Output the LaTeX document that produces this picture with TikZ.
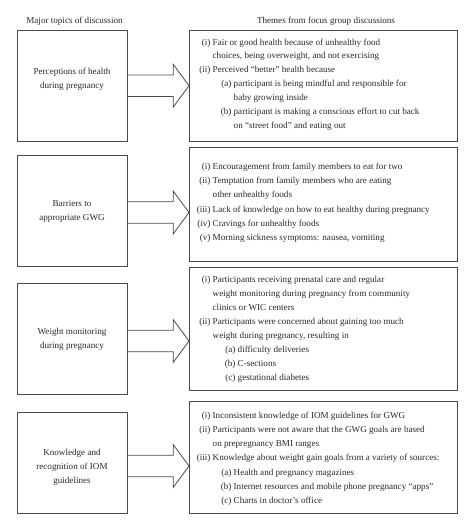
\documentclass[tikz,border=0pt]{standalone}
\usepackage{fontspec}
\setmainfont{Liberation Serif}
\usetikzlibrary{calc}
\definecolor{linegray}{HTML}{4A4A4A}
\definecolor{textgray}{HTML}{2A2A2A}
\newcommand\itm[2]{\makebox[0pt][r]{#1\ }#2}
\newcommand\subitm[3][21pt]{\hspace*{#1}\makebox[0pt][r]{#2\ }#3}
\newcommand\txtlines[1]{\begin{tabular}[t]{@{}l@{}}#1\end{tabular}}
\begin{document}
\begin{tikzpicture}[x=1pt,y=-1pt,
  box/.style={draw=linegray, line width=0.8pt, anchor=north west, inner sep=0pt},
  txt/.style={text=textgray, font=\fontsize{9.1}{14}\selectfont, inner sep=0pt},
  ltext/.style={txt, align=center},
  rtext/.style={txt, anchor=base west},
  arr/.style={draw=linegray, line width=0.8pt, line join=miter}]
\useasboundingbox[fill=white] (0,0) rectangle (474,530);

\node[txt] (h1) at (74.5,21) {Major topics of discussion};
\node[txt] (h2) at (326,21) {Themes from focus group discussions};

% left boxes
\node[box, minimum width=110.5pt, minimum height=111pt] (L1) at (16.8,29.7) {};
\node[box, minimum width=110.5pt, minimum height=111pt] (L2) at (16.8,154.7) {};
\node[box, minimum width=110.5pt, minimum height=110.7pt] (L3) at (16.8,283.3) {};
\node[box, minimum width=110.5pt, minimum height=100.4pt] (L4) at (16.8,412.3) {};

% right boxes
\node[box, minimum width=267.7pt, minimum height=111pt] (R1) at (189,29.7) {};
\node[box, minimum width=267.7pt, minimum height=113.4pt] (R2) at (189,147.3) {};
\node[box, minimum width=267.7pt, minimum height=123.4pt] (R3) at (189,266.5) {};
\node[box, minimum width=267.7pt, minimum height=112pt] (R4) at (189,400.7) {};

% left texts
\node[ltext] (L1t) at (72,79.5) {Perceptions of health\\during pregnancy};
\node[ltext] (L2t) at (72,211.5) {Barriers to\\appropriate GWG};
\node[ltext] (L3t) at (72,339.5) {Weight monitoring\\during pregnancy};
\node[ltext] (L4t) at (72,467) {Knowledge and\\recognition of IOM\\guidelines};

% arrows
\coordinate (a1) at (R1.west |- 0,85.7);
\coordinate (a2) at (R2.west |- 0,212.5);
\coordinate (a3) at (R3.west |- 0,341);
\coordinate (a4) at (R4.west |- 0,466);
\foreach \L/\a in {L1/a1,L2/a2,L3/a3,L4/a4}{
  \draw[arr] ($(\L.east |- \a)+(0,-10.7)$) -- ($(\a)+(-15.7,-10.7)$) -- ($(\a)+(-15.7,-21.3)$)
    -- (\a) -- ($(\a)+(-15.7,21.3)$) -- ($(\a)+(-15.7,10.7)$) -- ($(\L.east |- \a)+(0,10.7)$);
}

% right texts
\node[rtext, font=\fontsize{9.1}{13.9}\selectfont] (R1t) at (212.5,45) {\txtlines{%
\itm{(i)}{Fair or good health because of unhealthy food}\\
choices, being overweight, and not exercising\\
\itm{(ii)}{Perceived ``better'' health because}\\
\subitm{(a)}{participant is being mindful and responsible for}\\
\hspace*{21pt}baby growing inside\\
\subitm{(b)}{participant is making a conscious effort to cut back}\\
\hspace*{21pt}on ``street food'' and eating out}};

\node[rtext, font=\fontsize{9.1}{14.3}\selectfont] (R2t) at (212.5,169.2) {\txtlines{%
\itm{(i)}{Encouragement from family members to eat for two}\\
\itm{(ii)}{Temptation from family members who are eating}\\
other unhealthy foods\\
\itm{(iii)}{Lack of knowledge on how to eat healthy during pregnancy}\\
\itm{(iv)}{Cravings for unhealthy foods}\\
\itm{(v)}{Morning sickness symptoms: nausea, vomiting}}};

\node[rtext, font=\fontsize{9.1}{14}\selectfont] (R3t) at (212.5,282.8) {\txtlines{%
\itm{(i)}{Participants receiving prenatal care and regular}\\
weight monitoring during pregnancy from community\\
clinics or WIC centers\\
\itm{(ii)}{Participants were concerned about gaining too much}\\
weight during pregnancy, resulting in\\
\subitm[25pt]{(a)}{difficulty deliveries}\\
\subitm[25pt]{(b)}{C-sections}\\
\subitm[25pt]{(c)}{gestational diabetes}}};

\node[rtext, font=\fontsize{9.1}{14.2}\selectfont] (R4t) at (212.5,418.2) {\txtlines{%
\itm{(i)}{Inconsistent knowledge of IOM guidelines for GWG}\\
\itm{(ii)}{Participants were not aware that the GWG goals are based}\\
on prepregnancy BMI ranges\\
\itm{(iii)}{Knowledge about weight gain goals from a variety of sources:}\\
\subitm{(a)}{Health and pregnancy magazines}\\
\subitm{(b)}{Internet resources and mobile phone pregnancy ``apps''}\\
\subitm{(c)}{Charts in doctor's office}}};
\end{tikzpicture}
\end{document}
